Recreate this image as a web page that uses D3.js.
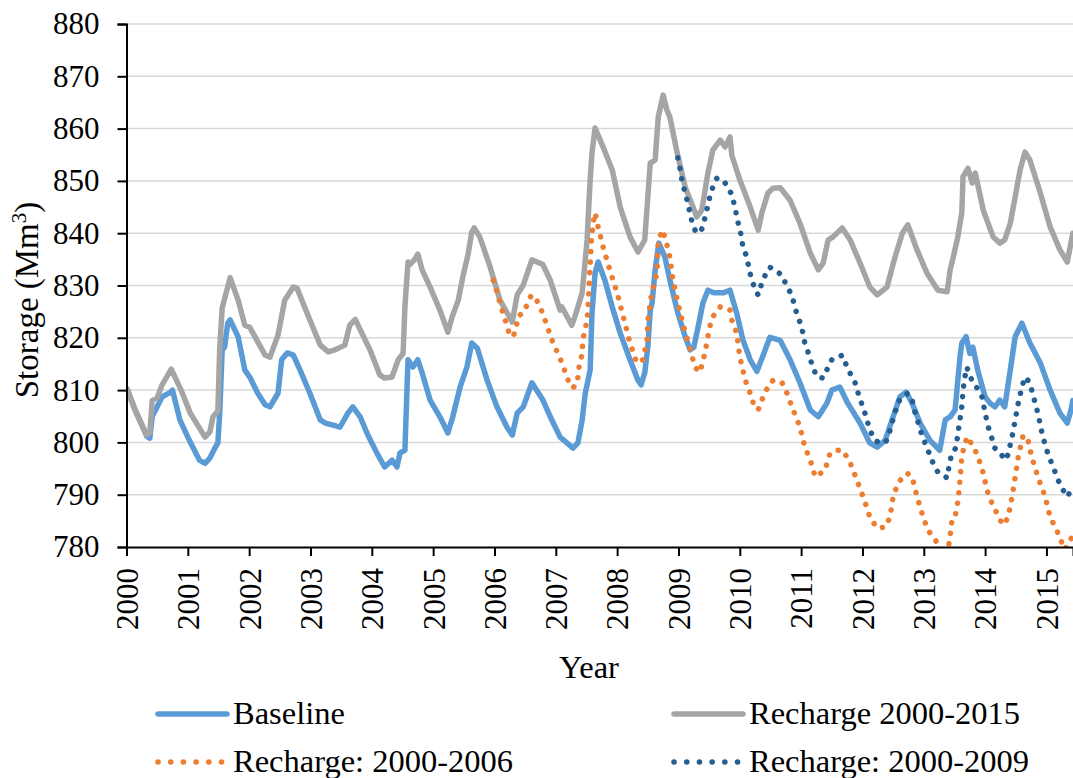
<!DOCTYPE html>
<html>
<head>
<meta charset="utf-8">
<script src="https://cdn.jsdelivr.net/npm/d3@7"></script>
<style>
  html, body { margin: 0; padding: 0; background: #fff; }
  svg { display: block; }
  text { font-family: "Liberation Serif", "Times New Roman", serif; fill: #000; }
</style>
</head>
<body>
<svg id="chart" width="1073" height="778"></svg>
<script>
// Groundwater storage (Mm³), decimal year vs. value
const yearTicks = d3.range(2000, 2016);
const storageTicks = d3.range(780, 881, 10);

const baseline = [
  [2000.01,810.2],[2000.14,806.2],[2000.33,801.2],[2000.38,800.8],[2000.42,805],[2000.50,806.8],[2000.58,808.7],
  [2000.72,809.6],[2000.75,810],[2000.87,804.3],[2001.00,801],[2001.19,796.6],[2001.28,796],[2001.36,797],
  [2001.45,799.1],[2001.49,799.9],[2001.52,805.6],[2001.56,817.7],[2001.60,818.2],[2001.65,822.8],[2001.69,823.4],
  [2001.82,820.2],[2001.93,813.8],[2002.01,812.5],[2002.14,809.4],[2002.26,807.2],[2002.34,806.8],[2002.47,809.4],
  [2002.53,815.8],[2002.62,817.1],[2002.72,816.7],[2002.83,813.8],[2002.99,809.4],[2003.16,804.3],[2003.24,803.7],
  [2003.37,803.3],[2003.48,802.9],[2003.61,805.6],[2003.69,806.8],[2003.81,804.9],[2003.92,801.8],[2004.08,798],
  [2004.21,795.3],[2004.33,796.6],[2004.41,795.3],[2004.46,798],[2004.54,798.5],[2004.59,815.8],[2004.67,814.4],
  [2004.75,815.8],[2004.82,813.3],[2004.95,808.1],[2005.11,804.9],[2005.24,801.8],[2005.32,804.9],[2005.44,810.6],
  [2005.55,814.4],[2005.63,819],[2005.72,818],[2005.88,811.9],[2006.04,806.8],[2006.20,803],[2006.29,801.4],
  [2006.37,805.6],[2006.47,806.8],[2006.61,811.4],[2006.79,808.1],[2006.91,804.9],[2007.07,801],[2007.18,799.9],
  [2007.28,798.9],[2007.36,799.9],[2007.43,804.3],[2007.48,809.4],[2007.56,813.8],[2007.59,824.7],[2007.64,832.4],
  [2007.69,834.5],[2007.80,831],[2007.92,825.9],[2008.05,820.9],[2008.21,815.8],[2008.34,811.9],[2008.39,811],
  [2008.45,813.3],[2008.50,818.2],[2008.54,825.3],[2008.57,826.7],[2008.62,833],[2008.68,838.1],[2008.78,835.4],
  [2008.86,831],[2008.99,824.7],[2009.11,820.2],[2009.19,817.7],[2009.25,818.2],[2009.32,822.1],[2009.40,826.7],
  [2009.48,829.1],[2009.58,828.6],[2009.73,828.6],[2009.84,829.1],[2009.95,824.7],[2010.05,819.6],[2010.17,815.8],
  [2010.28,813.6],[2010.38,816.6],[2010.49,820.1],[2010.66,819.5],[2010.82,815.8],[2010.98,811.4],[2011.15,806.2],
  [2011.28,804.9],[2011.42,807.5],[2011.50,810],[2011.63,810.6],[2011.76,807.5],[2011.96,803.7],[2012.12,799.9],
  [2012.24,799.1],[2012.37,800.4],[2012.50,804.9],[2012.61,808.7],[2012.71,809.6],[2012.81,807.5],[2012.94,803.7],
  [2013.10,800.4],[2013.26,798.5],[2013.35,804.3],[2013.43,804.9],[2013.51,806.2],[2013.59,816.3],[2013.62,819],
  [2013.69,820.2],[2013.75,817],[2013.80,818.2],[2013.88,813.8],[2014.00,808.7],[2014.08,807.5],[2014.16,806.8],
  [2014.24,808.1],[2014.32,806.8],[2014.41,813.8],[2014.49,820.2],[2014.60,822.8],[2014.73,819],[2014.90,815.2],
  [2015.06,810],[2015.22,805.6],[2015.34,803.7],[2015.40,806.2],[2015.43,808]
];

const recharge2000to2015 = [
  [2000.01,810.2],[2000.14,806.2],[2000.33,801.4],[2000.38,801.8],[2000.42,808],[2000.50,808.5],[2000.58,811],
  [2000.73,814],[2000.89,810],[2001.04,805.6],[2001.28,801],[2001.36,802],[2001.41,804.9],[2001.49,806],
  [2001.52,818],[2001.56,825.7],[2001.69,831.5],[2001.82,827.2],[2001.93,822.4],[2002.01,822],[2002.26,816.7],
  [2002.34,816.3],[2002.47,820.5],[2002.58,827.2],[2002.72,829.7],[2002.78,829.5],[2002.99,823.4],[2003.16,818.6],
  [2003.29,817.3],[2003.40,817.7],[2003.56,818.6],[2003.64,822.4],[2003.73,823.5],[2003.97,817.7],[2004.13,812.9],
  [2004.21,812.3],[2004.33,812.5],[2004.43,815.8],[2004.51,817],[2004.54,826],[2004.59,834.5],[2004.62,834],
  [2004.70,835],[2004.75,836],[2004.82,833],[2004.95,829.7],[2005.11,825.3],[2005.24,821.1],[2005.31,824],
  [2005.41,827.2],[2005.49,832],[2005.57,836],[2005.63,840.2],[2005.67,841],[2005.76,839.3],[2005.93,833.5],
  [2006.09,827.2],[2006.29,823],[2006.37,828.2],[2006.47,830.1],[2006.61,834.9],[2006.79,834],[2006.91,831],
  [2007.07,825.3],[2007.10,825.9],[2007.26,822.4],[2007.31,824],[2007.43,828.6],[2007.51,838.7],[2007.56,850.2],
  [2007.59,855.3],[2007.64,860.1],[2007.77,856.5],[2007.92,852.1],[2008.05,845],[2008.21,839.3],[2008.34,836.4],
  [2008.45,838.7],[2008.50,846.9],[2008.54,853.4],[2008.62,854],[2008.67,862.2],[2008.75,866.4],[2008.81,863.6],
  [2008.86,862.2],[2008.98,855.3],[2009.11,848.8],[2009.30,843.1],[2009.38,844.4],[2009.48,851.5],[2009.56,855.9],
  [2009.68,857.8],[2009.76,856.5],[2009.84,858.4],[2009.87,854.9],[2010.00,850.2],[2010.17,845],[2010.30,840.6],
  [2010.36,843.9],[2010.46,847.7],[2010.54,848.6],[2010.66,848.7],[2010.82,846.3],[2010.98,841.9],[2011.15,836.2],
  [2011.28,833],[2011.36,834.3],[2011.44,838.7],[2011.52,839.3],[2011.67,841],[2011.80,838.7],[2011.96,834.3],
  [2012.12,829.7],[2012.24,828.2],[2012.40,829.7],[2012.53,835.4],[2012.65,840],[2012.74,841.6],[2012.89,836.8],
  [2013.05,832.4],[2013.23,829.1],[2013.38,828.8],[2013.43,833],[2013.48,835.4],[2013.55,839],[2013.62,843.9],
  [2013.64,850.8],[2013.72,852.4],[2013.79,849.6],[2013.84,851.5],[2013.97,844.4],[2014.13,839.3],[2014.24,838.1],
  [2014.32,838.7],[2014.41,841.9],[2014.49,846.9],[2014.57,852.1],[2014.65,855.5],[2014.73,854],[2014.90,847.7],
  [2015.06,841.2],[2015.22,836.8],[2015.34,834.5],[2015.43,840]
];

const recharge2000to2006 = [
  [2005.98,831],[2006.04,828.8],[2006.09,826.6],[2006.14,824.7],[2006.19,822.8],[2006.25,820.5],[2006.30,820.2],
  [2006.35,821.5],[2006.38,824],[2006.45,824.7],[2006.50,825.3],[2006.55,827.2],[2006.61,828.2],[2006.69,827.2],
  [2006.74,825.7],[2006.79,824.7],[2006.84,822.8],[2006.94,819.5],[2007.10,815.2],[2007.20,811.9],[2007.28,810.4],
  [2007.35,811.4],[2007.38,814.4],[2007.43,817],[2007.44,819.6],[2007.51,823.4],[2007.54,829.1],[2007.56,834.3],
  [2007.57,836.4],[2007.58,838.7],[2007.61,842],[2007.64,843.9],[2007.69,841.2],[2007.77,837.4],[2007.88,833],
  [2008.00,828.6],[2008.10,824],[2008.21,819],[2008.32,815.2],[2008.42,815.8],[2008.49,819.6],[2008.50,823.4],
  [2008.57,829.1],[2008.62,830.5],[2008.65,833],[2008.67,838.1],[2008.73,840.6],[2008.78,839.3],[2008.86,835.4],
  [2008.91,831],[2008.99,826.7],[2009.07,822.8],[2009.16,819],[2009.27,814.4],[2009.35,813.4],[2009.43,817],
  [2009.51,822.1],[2009.56,824],[2009.68,825.9],[2009.79,825.7],[2009.84,825.3],[2009.87,823.4],[2009.95,820.9],
  [2010.00,816.3],[2010.09,811.9],[2010.17,809.4],[2010.22,807.5],[2010.30,806.2],[2010.38,808.7],[2010.49,811.4],
  [2010.55,811.9],[2010.69,811.4],[2010.77,809.4],[2010.85,806.8],[2010.98,803],[2011.06,799.1],[2011.15,796.6],
  [2011.23,793.4],[2011.39,794.7],[2011.47,797.9],[2011.59,798.5],[2011.68,798.5],[2011.80,796.1],[2011.91,792.8],
  [2012.01,789.6],[2012.07,787.6],[2012.12,785.7],[2012.24,783.6],[2012.37,783.8],[2012.45,785.7],[2012.50,789.6],
  [2012.58,792.2],[2012.66,793.4],[2012.73,794.1],[2012.81,793.4],[2012.89,789.6],[2012.99,785.7],[2013.07,783.2],
  [2013.22,780.8],[2013.30,779.5],[2013.40,779.8],[2013.43,782.2],[2013.46,785.2],[2013.51,785.7],[2013.56,789],
  [2013.59,792.8],[2013.62,797.2],[2013.67,799.9],[2013.72,801.1],[2013.80,799.1],[2013.87,797.8],[2013.97,794.1],
  [2014.03,790.9],[2014.11,788.4],[2014.19,786.5],[2014.29,784.2],[2014.37,785.5],[2014.44,789.6],[2014.49,793.4],
  [2014.54,797.2],[2014.62,801.4],[2014.70,800.4],[2014.76,797.2],[2014.86,793.4],[2014.98,789.6],[2015.06,785.7],
  [2015.17,783.2],[2015.22,781.7],[2015.30,779.5],[2015.38,781.3],[2015.43,782]
];

const recharge2000to2009 = [
  [2008.99,854.4],[2009.03,852.1],[2009.06,849.8],[2009.11,847.7],[2009.16,845.4],[2009.20,843.1],[2009.25,841],
  [2009.30,840],[2009.35,840.2],[2009.40,841.2],[2009.43,842.9],[2009.47,844.8],[2009.51,846.9],[2009.56,848.8],
  [2009.63,850.6],[2009.68,850.3],[2009.76,849.6],[2009.81,848.8],[2009.87,847.3],[2009.92,845],[2009.97,842.1],
  [2010.02,839.7],[2010.05,837.4],[2010.12,835.3],[2010.15,833],[2010.20,831],[2010.25,829.1],[2010.30,828.2],
  [2010.36,830.5],[2010.43,832.4],[2010.49,833.5],[2010.61,832.6],[2010.69,832],[2010.77,829.7],[2010.85,828.2],
  [2010.90,825.7],[2010.98,823],[2011.03,820.9],[2011.06,819],[2011.13,816.7],[2011.19,814.4],[2011.26,812.5],
  [2011.36,812.3],[2011.44,814.4],[2011.50,815.8],[2011.59,816.1],[2011.67,816.7],[2011.75,814.4],[2011.83,812.5],
  [2011.88,811.4],[2011.93,809.4],[2012.04,805.6],[2012.12,802.4],[2012.20,800.4],[2012.29,799.9],[2012.37,799.9],
  [2012.42,801],[2012.48,803.7],[2012.53,805.6],[2012.58,807.7],[2012.66,808.7],[2012.74,809.4],[2012.81,808.1],
  [2012.86,805.6],[2012.91,803.7],[2012.97,801.4],[2013.02,799.9],[2013.10,797.6],[2013.15,796.1],[2013.23,794.3],
  [2013.31,793.8],[2013.38,793.2],[2013.41,795.3],[2013.45,797.6],[2013.53,799.1],[2013.56,802],[2013.59,804.3],
  [2013.62,806.8],[2013.64,810],[2013.67,812.5],[2013.70,814.4],[2013.75,812.9],[2013.80,811.4],[2013.87,810.4],
  [2013.95,808.7],[2014.00,805.6],[2014.05,803],[2014.11,800.8],[2014.16,798.9],[2014.24,798.2],[2014.32,796.6],
  [2014.37,797.6],[2014.44,801.1],[2014.49,804.3],[2014.54,807.5],[2014.60,810.6],[2014.65,812.5],[2014.73,811.4],
  [2014.78,809.1],[2014.86,805.6],[2014.94,801.1],[2015.03,797.6],[2015.11,795.3],[2015.19,792.8],[2015.27,790.9],
  [2015.35,789.6],[2015.42,792]
];

const seriesNames = ["Baseline", "Recharge 2000-2015", "Recharge: 2000-2006", "Recharge: 2000-2009"];
const seriesColors = ["#5B9BD5", "#A5A5A5", "#ED7D31", "#255E91"];
const seriesData = [baseline, recharge2000to2015, recharge2000to2006, recharge2000to2009];
const seriesDotted = [false, false, true, true];

const plot = { left: 126.5, right: 1073, top: 24, bottom: 547 };
const TICK_FONT = 31;
const LABEL_FONT = 32.5;

const svg = d3.select("#chart");

const x = d3.scaleLinear().domain([2000, 2015.433]).range([plot.left, plot.right]);
const y = d3.scaleLinear().domain([780, 880]).range([plot.bottom, plot.top]);

// horizontal gridlines
svg.append("g")
  .selectAll("line")
  .data(storageTicks.filter(v => v > 780))
  .join("line")
  .attr("x1", plot.left).attr("x2", plot.right)
  .attr("y1", d => y(d)).attr("y2", d => y(d))
  .attr("stroke", "#d9d9d9").attr("stroke-width", 1.5);

// clip lines to the plotting area
svg.append("defs").append("clipPath").attr("id", "plotClip")
  .append("rect")
  .attr("x", plot.left).attr("y", 0)
  .attr("width", plot.right - plot.left).attr("height", plot.bottom);

const line = d3.line().x(d => x(d[0])).y(d => y(d[1]));

const lines = svg.append("g").attr("clip-path", "url(#plotClip)");
seriesData.forEach((data, i) => {
  const p = lines.append("path")
    .datum(data)
    .attr("d", line)
    .attr("fill", "none")
    .attr("stroke", seriesColors[i])
    .attr("stroke-width", 5.5)
    .attr("stroke-linejoin", "round")
    .attr("stroke-linecap", "round");
  if (seriesDotted[i]) p.attr("stroke-dasharray", "0.1 10.5");
});

// y axis
const yAxis = svg.append("g")
  .attr("transform", `translate(${plot.left},0)`)
  .call(d3.axisLeft(y).tickValues(storageTicks).tickSize(9).tickPadding(18).tickFormat(d3.format("d")));
yAxis.select(".domain").attr("stroke", "#000").attr("stroke-width", 2);
yAxis.selectAll(".tick line").attr("stroke", "#000").attr("stroke-width", 2);
yAxis.selectAll(".tick text")
  .style("font-family", "'Liberation Serif', 'Times New Roman', serif")
  .style("font-size", TICK_FONT + "px").attr("fill", "#000");

// x axis
const xAxis = svg.append("g")
  .attr("transform", `translate(0,${plot.bottom})`)
  .call(d3.axisBottom(x).tickValues(yearTicks).tickSize(9).tickFormat(d3.format("d")));
xAxis.select(".domain").attr("stroke", "#000").attr("stroke-width", 2);
xAxis.selectAll(".tick line").attr("stroke", "#000").attr("stroke-width", 2);
xAxis.selectAll(".tick text")
  .style("font-family", "'Liberation Serif', 'Times New Roman', serif")
  .style("font-size", TICK_FONT + "px").attr("fill", "#000")
  .attr("transform", "rotate(-90)")
  .attr("text-anchor", "end")
  .attr("x", -21).attr("y", 0).attr("dy", "0.35em");

// axis titles
svg.append("text")
  .attr("x", 589).attr("y", 678)
  .attr("text-anchor", "middle")
  .style("font-size", LABEL_FONT + "px")
  .text("Year");

const yTitle = svg.append("text")
  .attr("transform", "translate(38,300) rotate(-90)")
  .attr("text-anchor", "middle")
  .style("font-size", "33px");
yTitle.append("tspan").text("Storage (Mm");
yTitle.append("tspan").attr("baseline-shift", "super").style("font-size", "21px").text("3");
yTitle.append("tspan").text(")");

// legend
const legendItems = [
  { i: 0, x0: 158, x1: 227, ty: 714 },
  { i: 1, x0: 674, x1: 743, ty: 714 },
  { i: 2, x0: 158, x1: 227, ty: 762 },
  { i: 3, x0: 674, x1: 743, ty: 762 }
];
const legend = svg.append("g");
legendItems.forEach(it => {
  const l = legend.append("line")
    .attr("x1", it.x0).attr("x2", it.x1)
    .attr("y1", it.ty).attr("y2", it.ty)
    .attr("stroke", seriesColors[it.i])
    .attr("stroke-width", 5.5)
    .attr("stroke-linecap", "round");
  if (seriesDotted[it.i]) l.attr("stroke-dasharray", "0.1 12.6");
  legend.append("text")
    .attr("x", it.x1 + 6).attr("y", it.ty + 10)
    .style("font-size", LABEL_FONT + "px")
    .text(seriesNames[it.i]);
});
</script>
</body>
</html>
